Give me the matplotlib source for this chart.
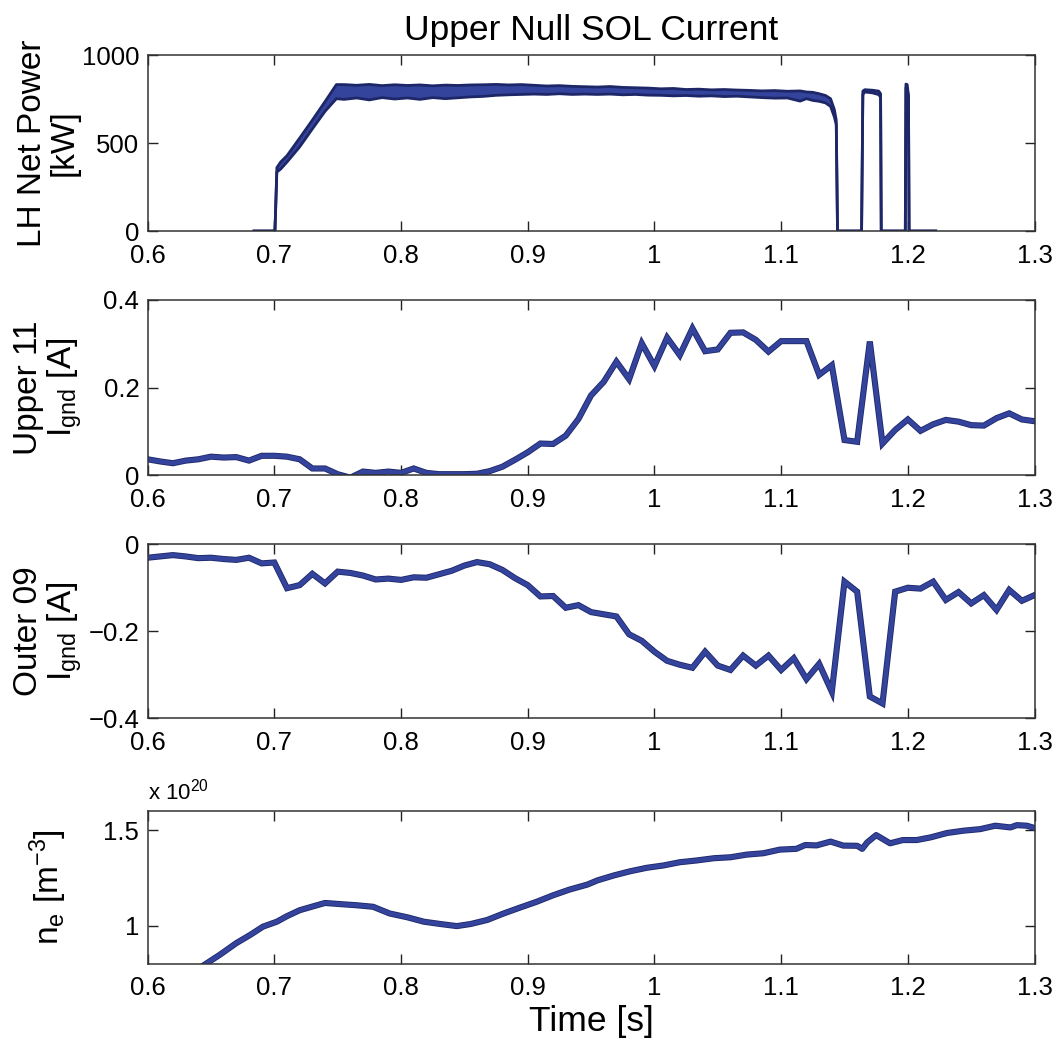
import matplotlib
matplotlib.use("Agg")
import matplotlib.pyplot as plt
import matplotlib.patheffects as pe

plt.rcParams['font.family'] = ['Liberation Sans', 'DejaVu Sans']
plt.rcParams['mathtext.fontset'] = 'custom'
plt.rcParams['mathtext.rm'] = 'Liberation Sans'
plt.rcParams['mathtext.it'] = 'Liberation Sans:italic'
plt.rcParams['mathtext.default'] = 'regular'

# ---------------- data ----------------
# LH net power: envelope of the noisy trace [kW]
power_t = [0.684, 0.6995, 0.7005, 0.7020, 0.705, 0.710, 0.720, 0.730, 0.740, 0.749,
           0.755, 0.765, 0.775, 0.785, 0.795, 0.805, 0.815, 0.825, 0.835, 0.845,
           0.855, 0.865, 0.875, 0.885, 0.895, 0.905, 0.915, 0.925, 0.935, 0.945,
           0.955, 0.965, 0.975, 0.985, 0.995, 1.005, 1.015, 1.025, 1.035, 1.045,
           1.055, 1.065, 1.075, 1.085, 1.095, 1.105, 1.115, 1.120, 1.125, 1.130,
           1.135, 1.139, 1.142, 1.1435, 1.1445, 1.1635, 1.1645, 1.166, 1.172, 1.177,
           1.1785, 1.1790, 1.1980, 1.1985, 1.1995, 1.2005, 1.2010, 1.222]
power_hi = [0, 0, 0, 360, 392, 428, 528, 630, 735, 832,
            832, 828, 833, 826, 831, 827, 830, 825, 829, 827,
            830, 831, 833, 830, 832, 828, 824, 826, 822, 820,
            818, 821, 816, 814, 812, 808, 810, 804, 806, 802,
            804, 801, 799, 796, 798, 794, 796, 790, 788, 780,
            770, 752, 690, 630, 0, 0, 795, 803, 800, 795,
            780, 0, 0, 835, 832, 770, 0, 0]
power_lo = [0, 0, 0, 335, 352, 392, 478, 580, 680, 752,
            748, 756, 745, 758, 750, 756, 748, 758, 752, 757,
            762, 765, 771, 774, 776, 778, 776, 780, 776, 778,
            776, 778, 774, 776, 772, 771, 768, 770, 766, 768,
            764, 766, 762, 758, 755, 756, 738, 752, 742, 737,
            728, 708, 648, 605, 0, 0, 775, 790, 785, 775,
            760, 0, 0, 815, 810, 760, 0, 0]

# ground currents sampled in time [s]
probe_t = [0.60, 0.61, 0.62, 0.63, 0.64, 0.65, 0.66, 0.67, 0.68, 0.69,
           0.70, 0.71, 0.72, 0.73, 0.74, 0.75, 0.76, 0.77, 0.78, 0.79,
           0.80, 0.81, 0.82, 0.83, 0.84, 0.85, 0.86, 0.87, 0.88, 0.89,
           0.90, 0.91, 0.92, 0.93, 0.94, 0.95, 0.96, 0.97, 0.98, 0.99,
           1.00, 1.01, 1.02, 1.03, 1.04, 1.05, 1.06, 1.07, 1.08, 1.09,
           1.10, 1.11, 1.12, 1.13, 1.14, 1.15, 1.16, 1.17, 1.18, 1.19,
           1.20, 1.21, 1.22, 1.23, 1.24, 1.25, 1.26, 1.27, 1.28, 1.29, 1.30]

upper11 = [0.036, 0.031, 0.027, 0.033, 0.036, 0.042, 0.040, 0.041, 0.033, 0.044,
           0.044, 0.042, 0.036, 0.015, 0.015, 0.002, -0.006, 0.008, 0.005, 0.008,
           0.005, 0.015, 0.005, 0.002, 0.002, 0.002, 0.003, 0.009, 0.019, 0.035,
           0.052, 0.072, 0.071, 0.090, 0.128, 0.182, 0.213, 0.259, 0.219, 0.301,
           0.249, 0.314, 0.274, 0.335, 0.283, 0.287, 0.325, 0.326, 0.309, 0.282,
           0.306, 0.306, 0.306, 0.229, 0.251, 0.080, 0.076, 0.305, 0.072, 0.103,
           0.127, 0.101, 0.116, 0.126, 0.122, 0.114, 0.113, 0.130, 0.141, 0.127, 0.123]

outer09 = [-0.031, -0.028, -0.025, -0.028, -0.032, -0.031, -0.034, -0.036, -0.031, -0.044,
           -0.042, -0.101, -0.094, -0.068, -0.090, -0.063, -0.066, -0.072, -0.081, -0.079,
           -0.082, -0.076, -0.077, -0.069, -0.061, -0.049, -0.041, -0.046, -0.059, -0.078,
           -0.094, -0.120, -0.119, -0.146, -0.140, -0.156, -0.161, -0.166, -0.207, -0.222,
           -0.247, -0.268, -0.277, -0.284, -0.247, -0.279, -0.289, -0.256, -0.279, -0.256,
           -0.289, -0.262, -0.310, -0.275, -0.339, -0.086, -0.109, -0.350, -0.366, -0.109,
           -0.100, -0.102, -0.086, -0.128, -0.110, -0.136, -0.117, -0.151, -0.105, -0.130, -0.117]

# line-averaged density [1e20 m^-3]
dens_t = [0.640, 0.647, 0.657, 0.670, 0.681, 0.691, 0.702, 0.710, 0.720, 0.731,
          0.740, 0.752, 0.765, 0.778, 0.791, 0.805, 0.818, 0.831, 0.844, 0.855,
          0.868, 0.881, 0.894, 0.907, 0.920, 0.933, 0.947, 0.955, 0.968, 0.981,
          0.994, 1.007, 1.020, 1.033, 1.047, 1.060, 1.073, 1.086, 1.099, 1.112,
          1.119, 1.128, 1.139, 1.149, 1.160, 1.164, 1.168, 1.175, 1.186, 1.196,
          1.207, 1.218, 1.231, 1.244, 1.257, 1.269, 1.281, 1.286, 1.294, 1.300]
dens = [0.775, 0.805, 0.848, 0.909, 0.952, 0.995, 1.021, 1.050, 1.081, 1.102,
        1.119, 1.113, 1.107, 1.099, 1.064, 1.044, 1.021, 1.009, 0.998, 1.009,
        1.030, 1.064, 1.095, 1.125, 1.159, 1.189, 1.215, 1.237, 1.263, 1.285,
        1.303, 1.315, 1.332, 1.341, 1.353, 1.358, 1.372, 1.379, 1.398, 1.402,
        1.422, 1.420, 1.440, 1.419, 1.418, 1.402, 1.436, 1.474, 1.431, 1.448,
        1.448, 1.462, 1.485, 1.497, 1.505, 1.523, 1.514, 1.526, 1.523, 1.511]

x_ticks = [0.6, 0.7, 0.8, 0.9, 1.0, 1.1, 1.2, 1.3]
x_tick_labels = ['0.6', '0.7', '0.8', '0.9', '1', '1.1', '1.2', '1.3']

# ---------------- figure ----------------
fig = plt.figure(figsize=(10.59, 10.42), dpi=100)

LEFT, WIDTH = 0.1394, 0.8375
rects = [
    (LEFT, 0.7783, WIDTH, 0.1689),
    (LEFT, 0.5441, WIDTH, 0.1680),
    (LEFT, 0.3107, WIDTH, 0.1670),
    (LEFT, 0.0749, WIDTH, 0.1468),
]
axes = [fig.add_axes(r) for r in rects]

LINE = '#34449c'
EDGE = '#1d2768'
stroke = [pe.Stroke(linewidth=4.4, foreground=EDGE), pe.Normal()]


def style_axis(ax):
    ax.set_xlim(0.6, 1.3)
    ax.set_xticks(x_ticks)
    ax.set_xticklabels(x_tick_labels)
    ax.tick_params(direction='in', length=7, width=1.0, top=True, right=True,
                   labelsize=18.5, colors='#222222', labelcolor='black')
    ax.tick_params(axis='x', pad=9)
    ax.tick_params(axis='y', pad=6)
    for s in ax.spines.values():
        s.set_linewidth(1.1)
        s.set_color('#333333')


# LH power
ax = axes[0]
ax.fill_between(power_t, power_lo, power_hi, color=LINE, linewidth=0)
ax.plot(power_t, power_hi, color=EDGE, lw=2.0, solid_joinstyle='round')
ax.plot(power_t, power_lo, color=EDGE, lw=2.0, solid_joinstyle='round')
ax.set_ylim(0, 1000)
ax.set_yticks([0, 500, 1000])
ax.set_yticklabels(['0', '500', '1000'])
ax.set_ylabel('LH Net Power\n[kW]', fontsize=24, linespacing=1.05, va='center')
ax.set_title('Upper Null SOL Current', fontsize=25.5, pad=11)

# Upper 11 ground current
ax = axes[1]
ax.plot(probe_t, upper11, color=LINE, lw=3.2, path_effects=stroke, solid_joinstyle='miter')
ax.set_ylim(0, 0.4)
ax.set_yticks([0, 0.2, 0.4])
ax.set_yticklabels(['0', '0.2', '0.4'])
ax.set_ylabel('Upper 11\nI$_{gnd}$ [A]', fontsize=24, linespacing=1.05, va='center')

# Outer 09 ground current
ax = axes[2]
ax.plot(probe_t, outer09, color=LINE, lw=3.2, path_effects=stroke, solid_joinstyle='miter')
ax.set_ylim(-0.4, 0)
ax.set_yticks([-0.4, -0.2, 0])
ax.set_yticklabels(['\u22120.4', '\u22120.2', '0'])
ax.set_ylabel('Outer 09\nI$_{gnd}$ [A]', fontsize=24, linespacing=1.05, va='center')

# density
ax = axes[3]
ax.plot(dens_t, dens, color=LINE, lw=3.2, path_effects=stroke)
ax.set_ylim(0.8, 1.6)
ax.set_yticks([1.0, 1.5])
ax.set_yticklabels(['1', '1.5'])
ax.set_ylabel('n$_{e}$ [m$^{-3}$]', fontsize=24, va='center')
ax.text(0.0, 1.04, 'x 10$^{20}$', transform=ax.transAxes, fontsize=16,
        ha='left', va='bottom')
ax.set_xlabel('Time [s]', fontsize=25.5, labelpad=3)

for ax in axes:
    style_axis(ax)
    ax.yaxis.set_label_coords(-0.112, 0.5)

fig.savefig('out.png', dpi=100, facecolor='white')
